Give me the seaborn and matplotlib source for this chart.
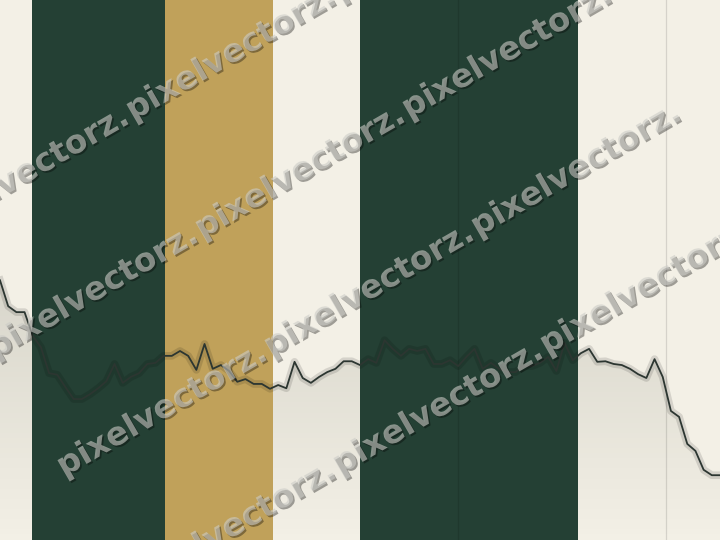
import numpy as np
import pandas as pd
import matplotlib
matplotlib.use("Agg")
import matplotlib.pyplot as plt
import matplotlib.patheffects as pe
import seaborn as sns

# ---- data ----
values = [48.1, 43.3, 42.2, 42.2, 37.8, 35.7, 30.9, 30.6, 28.3, 26.1,
          26.1, 27.0, 28.1, 29.4, 32.6, 29.1, 30.2, 30.9, 32.6, 32.8,
          34.1, 34.1, 35.0, 34.1, 31.5, 36.3, 31.7, 32.4, 31.3, 29.3,
          29.8, 28.9, 28.9, 28.0, 28.7, 28.1, 33.0, 30.0, 29.1, 30.2,
          31.1, 31.7, 33.1, 33.1, 32.4, 33.5, 32.8, 37.0, 35.4, 34.1,
          35.4, 35.0, 35.4, 32.6, 32.6, 33.3, 32.2, 33.9, 35.4, 31.7,
          32.8, 31.7, 31.1, 31.1, 32.2, 32.2, 32.8, 33.9, 31.3, 36.5,
          33.3, 34.6, 35.4, 33.0, 33.1, 32.6, 32.4, 31.7, 30.7, 30.0,
          33.5, 30.2, 23.9, 22.8, 17.8, 16.5, 13.0, 12.0, 12.0]
periods = list(range(len(values)))

band_starts = [3.9, 20.2, 44.0]
band_ends = [20.2, 33.4, 70.6]
band_kinds = ["green", "gold", "green"]

grid_x = [56.0, 81.4]
watermark = "pixelvectorz."

# ---- styling ----
BG = "#f3f0e6"
COLORS = {"green": "#244034", "gold": "#c0a15a"}

df = pd.DataFrame({"period": periods, "value": values})

fig = plt.figure(figsize=(7.2, 5.4), dpi=100)
fig.patch.set_facecolor(BG)
ax = fig.add_axes([0, 0, 1, 1])
ax.set_facecolor(BG)
ax.set_xlim(0, len(values) - 1)
ax.set_ylim(0, 100)

# gradient fill under the line
poly = ax.fill_between(df["period"], df["value"], 0, facecolor="none",
                       edgecolor="none", zorder=0)
top = max(values)
grad = np.zeros((256, 2, 4))
grad[..., 0] = 0.43
grad[..., 1] = 0.43
grad[..., 2] = 0.37
grad[..., 3] = np.linspace(0.0, 0.2, 256)[:, None]
im = ax.imshow(grad, extent=[0, len(values) - 1, 0, top], origin="lower",
               aspect="auto", zorder=0.2, interpolation="bilinear")
im.set_clip_path(poly.get_paths()[0], transform=ax.transData)

# bands
for s, e, k in zip(band_starts, band_ends, band_kinds):
    ax.axvspan(s, e, color=COLORS[k], lw=0, zorder=1)

# grid
ax.set_xticks(grid_x)
ax.set_yticks([])
ax.set_axisbelow("line")
ax.grid(axis="x", color="black", alpha=0.12, lw=0.9)
ax.tick_params(length=0, labelbottom=False, labelleft=False)
for sp in ax.spines.values():
    sp.set_visible(False)

# line with halo
sns.lineplot(data=df, x="period", y="value", ax=ax, color="black",
             alpha=0.12, lw=5.5, zorder=3, legend=False)
sns.lineplot(data=df, x="period", y="value", ax=ax, color="#2c3631",
             lw=1.3, zorder=4, legend=False)
ax.set_xlabel("")
ax.set_ylabel("")

# watermark grid
W, H = 720.0, 540.0
for r in range(4):
    for c in range(3):
        px = 64 + (r - 2) * 69 + c * 207
        py = 477 + (r - 2) * 118 - c * 120
        fig.text(px / W, 1 - py / H, watermark, rotation=30,
                 rotation_mode="anchor", ha="left", va="baseline",
                 fontsize=23.5, fontweight="bold", family="DejaVu Sans",
                 color=(0.80, 0.80, 0.78), alpha=0.6, zorder=10,
                 path_effects=[pe.withSimplePatchShadow(offset=(1.2, -1.2),
                                                        shadow_rgbFace="black",
                                                        alpha=0.35)])

fig.savefig("out.png", dpi=100, facecolor=BG)
